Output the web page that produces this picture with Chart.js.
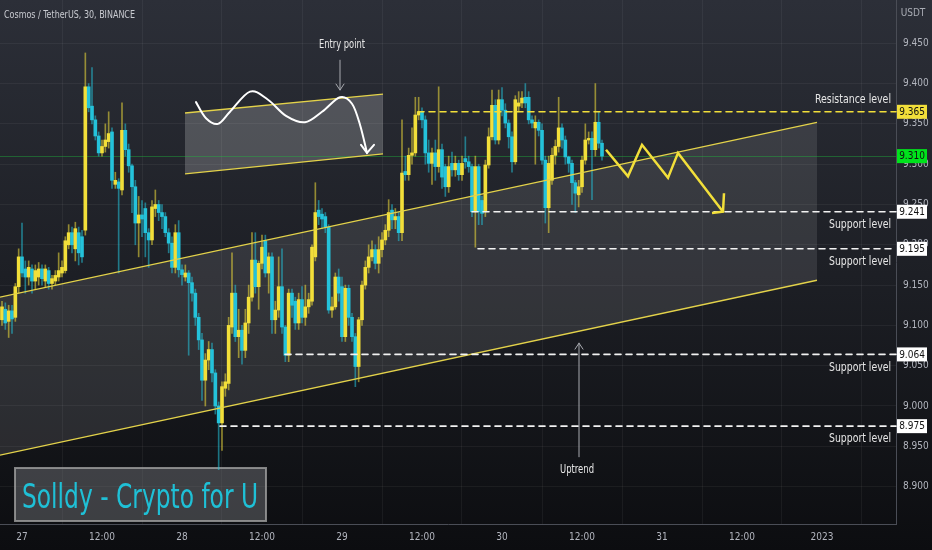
<!DOCTYPE html>
<html>
<head>
<meta charset="utf-8">
<script src="https://cdn.jsdelivr.net/npm/chart.js@4.4.1/dist/chart.umd.min.js"></script>
<style>
  html, body { margin: 0; padding: 0; background: #16171c; }
  canvas { display: block; }
</style>
</head>
<body>
<canvas id="chart" width="932" height="550"></canvas>
<script>
// 30 min candles, bar index 0 = 27 Dec 00:00
const firstBar = -6;

const openP = [
  9.107, 9.120, 9.105, 9.118, 9.110, 9.148, 9.185, 9.170, 9.160, 9.170,
  9.155, 9.160, 9.170, 9.155, 9.168, 9.152, 9.155, 9.160, 9.165, 9.168,
  9.200, 9.215, 9.195, 9.215, 9.210, 9.218, 9.396, 9.372, 9.355, 9.335,
  9.314, 9.322, 9.328, 9.340, 9.275, 9.278, 9.268, 9.342, 9.318, 9.298,
  9.272, 9.227, 9.237, 9.245, 9.215, 9.206, 9.245, 9.250, 9.240, 9.235,
  9.215, 9.202, 9.172, 9.215, 9.169, 9.160, 9.165, 9.153, 9.140, 9.110,
  9.082, 9.032, 9.057, 9.070, 9.041, 9.000, 8.979, 9.022, 9.028, 9.098,
  9.140, 9.086, 9.094, 9.069, 9.103, 9.135, 9.181, 9.148, 9.177, 9.205,
  9.165, 9.185, 9.107, 9.119, 9.148, 9.098, 9.063, 9.140, 9.130, 9.103,
  9.132, 9.110, 9.123, 9.130, 9.185, 9.243, 9.238, 9.235, 9.222, 9.119,
  9.123, 9.160, 9.148, 9.086, 9.146, 9.110, 9.086, 9.049, 9.107, 9.150,
  9.172, 9.185, 9.194, 9.177, 9.194, 9.206, 9.218, 9.243, 9.231, 9.235,
  9.215, 9.291, 9.287, 9.311, 9.314, 9.361, 9.365, 9.355, 9.314, 9.301,
  9.314, 9.297, 9.318, 9.297, 9.272, 9.301, 9.293, 9.301, 9.287, 9.307,
  9.303, 9.297, 9.241, 9.297, 9.255, 9.241, 9.299, 9.334, 9.373, 9.330,
  9.380, 9.367, 9.351, 9.334, 9.303, 9.372, 9.376, 9.383, 9.383, 9.355,
  9.345, 9.352, 9.342, 9.305, 9.246, 9.280, 9.311, 9.322, 9.345, 9.330,
  9.309, 9.301, 9.277, 9.262, 9.272, 9.305, 9.330, 9.332, 9.318, 9.352,
  9.326
];
const highP = [
  9.130, 9.128, 9.125, 9.125, 9.152, 9.195, 9.227, 9.180, 9.180, 9.175,
  9.175, 9.178, 9.175, 9.175, 9.172, 9.162, 9.168, 9.190, 9.180, 9.210,
  9.225, 9.222, 9.228, 9.222, 9.218, 9.438, 9.400, 9.420, 9.360, 9.340,
  9.330, 9.350, 9.365, 9.345, 9.290, 9.282, 9.376, 9.350, 9.325, 9.300,
  9.280, 9.260, 9.255, 9.252, 9.220, 9.255, 9.268, 9.255, 9.250, 9.240,
  9.220, 9.210, 9.225, 9.230, 9.175, 9.175, 9.168, 9.160, 9.145, 9.115,
  9.090, 9.065, 9.080, 9.078, 9.045, 9.005, 9.030, 9.040, 9.110, 9.190,
  9.150, 9.120, 9.100, 9.120, 9.150, 9.215, 9.215, 9.180, 9.212, 9.212,
  9.190, 9.190, 9.130, 9.185, 9.195, 9.100, 9.145, 9.145, 9.135, 9.140,
  9.148, 9.150, 9.140, 9.200, 9.277, 9.255, 9.245, 9.240, 9.225, 9.135,
  9.165, 9.170, 9.160, 9.150, 9.150, 9.115, 9.090, 9.110, 9.155, 9.180,
  9.200, 9.205, 9.200, 9.210, 9.215, 9.225, 9.256, 9.250, 9.245, 9.240,
  9.355, 9.310, 9.320, 9.345, 9.383, 9.383, 9.370, 9.360, 9.330, 9.320,
  9.330, 9.396, 9.325, 9.300, 9.310, 9.315, 9.310, 9.305, 9.310, 9.334,
  9.310, 9.300, 9.310, 9.300, 9.260, 9.305, 9.345, 9.392, 9.380, 9.392,
  9.395, 9.375, 9.355, 9.340, 9.385, 9.390, 9.390, 9.400, 9.390, 9.360,
  9.360, 9.355, 9.350, 9.310, 9.310, 9.320, 9.330, 9.383, 9.350, 9.335,
  9.310, 9.305, 9.280, 9.280, 9.310, 9.350, 9.340, 9.340, 9.400, 9.365,
  9.330
];
const lowP = [
  9.100, 9.095, 9.085, 9.090, 9.105, 9.140, 9.160, 9.140, 9.150, 9.140,
  9.145, 9.150, 9.150, 9.148, 9.145, 9.145, 9.150, 9.155, 9.160, 9.165,
  9.195, 9.190, 9.180, 9.175, 9.178, 9.212, 9.365, 9.350, 9.330, 9.310,
  9.310, 9.315, 9.320, 9.270, 9.270, 9.165, 9.262, 9.310, 9.290, 9.240,
  9.200, 9.185, 9.210, 9.185, 9.172, 9.200, 9.235, 9.230, 9.220, 9.210,
  9.190, 9.165, 9.165, 9.160, 9.150, 9.155, 9.063, 9.130, 9.100, 9.070,
  9.007, 9.000, 9.045, 9.030, 8.990, 8.921, 8.945, 9.012, 9.020, 9.090,
  9.080, 9.060, 9.052, 9.060, 9.090, 9.130, 9.140, 9.120, 9.170, 9.160,
  9.140, 9.090, 9.090, 9.110, 9.090, 9.055, 9.055, 9.110, 9.095, 9.095,
  9.103, 9.100, 9.115, 9.125, 9.180, 9.225, 9.220, 9.215, 9.115, 9.110,
  9.120, 9.130, 9.080, 9.080, 9.100, 9.080, 9.024, 9.030, 9.100, 9.145,
  9.165, 9.180, 9.170, 9.165, 9.185, 9.200, 9.210, 9.220, 9.220, 9.205,
  9.205, 9.280, 9.280, 9.300, 9.310, 9.355, 9.345, 9.300, 9.290, 9.275,
  9.280, 9.290, 9.270, 9.260, 9.265, 9.285, 9.285, 9.280, 9.280, 9.295,
  9.290, 9.235, 9.197, 9.225, 9.225, 9.235, 9.295, 9.330, 9.325, 9.325,
  9.360, 9.345, 9.320, 9.290, 9.300, 9.365, 9.370, 9.370, 9.350, 9.345,
  9.300, 9.335, 9.300, 9.227, 9.215, 9.275, 9.300, 9.315, 9.320, 9.300,
  9.290, 9.250, 9.240, 9.247, 9.265, 9.300, 9.325, 9.256, 9.310, 9.320,
  9.305
];
const closeP = [
  9.123, 9.103, 9.118, 9.108, 9.148, 9.185, 9.165, 9.160, 9.172, 9.155,
  9.168, 9.170, 9.158, 9.170, 9.152, 9.158, 9.162, 9.168, 9.172, 9.205,
  9.215, 9.200, 9.220, 9.190, 9.185, 9.396, 9.370, 9.355, 9.335, 9.314,
  9.322, 9.330, 9.338, 9.280, 9.280, 9.270, 9.342, 9.318, 9.298, 9.272,
  9.227, 9.237, 9.232, 9.215, 9.206, 9.247, 9.250, 9.240, 9.235, 9.215,
  9.202, 9.172, 9.215, 9.169, 9.163, 9.165, 9.153, 9.140, 9.110, 9.082,
  9.032, 9.057, 9.070, 9.041, 9.000, 8.979, 9.024, 9.030, 9.100, 9.140,
  9.086, 9.094, 9.069, 9.103, 9.135, 9.181, 9.148, 9.177, 9.197, 9.165,
  9.185, 9.107, 9.119, 9.148, 9.098, 9.063, 9.140, 9.125, 9.103, 9.132,
  9.110, 9.123, 9.132, 9.197, 9.240, 9.235, 9.232, 9.222, 9.119, 9.123,
  9.160, 9.140, 9.086, 9.146, 9.110, 9.086, 9.049, 9.107, 9.150, 9.172,
  9.185, 9.194, 9.177, 9.194, 9.206, 9.218, 9.240, 9.231, 9.235, 9.215,
  9.289, 9.287, 9.311, 9.314, 9.361, 9.365, 9.355, 9.314, 9.301, 9.314,
  9.297, 9.318, 9.284, 9.272, 9.297, 9.293, 9.301, 9.287, 9.301, 9.303,
  9.297, 9.241, 9.297, 9.241, 9.239, 9.299, 9.334, 9.373, 9.330, 9.380,
  9.367, 9.351, 9.334, 9.303, 9.380, 9.376, 9.382, 9.376, 9.355, 9.351,
  9.352, 9.342, 9.305, 9.246, 9.301, 9.311, 9.322, 9.345, 9.330, 9.309,
  9.301, 9.277, 9.264, 9.272, 9.305, 9.330, 9.332, 9.318, 9.352, 9.326,
  9.310
];

const xTickBars = [0, 24, 48, 72, 96, 120, 144, 168, 192, 216, 240];
const xTickLabels = ['27', '12:00', '28', '12:00', '29', '12:00', '30', '12:00', '31', '12:00', '2023'];
const yTicks = [8.90, 8.95, 9.00, 9.05, 9.10, 9.15, 9.20, 9.25, 9.30, 9.35, 9.40, 9.45];

// drawn levels (price)
const resistance = 9.365;
const supports = [9.241, 9.195, 9.064, 8.975];
const supportFrom = [135, 136.8, 78.9, 59.4];
const lastPrice = 9.310;

// trend channel: [bar, price]
const channelTop = [[-6.6, 9.135], [238.5, 9.352]];
const channelBottom = [[-6.6, 8.939], [238.5, 9.156]];
// small sketch box
const boxTop = [[48.9, 9.3635], [108.3, 9.387]];
const boxBottom = [[48.9, 9.288], [108.3, 9.3127]];
const wave = [[52.2, 9.377], [55.2, 9.357], [58.8, 9.350], [62.4, 9.365], [68.4, 9.390],
  [73.8, 9.380], [79.2, 9.360], [84.9, 9.352], [90.0, 9.365], [95.4, 9.383],
  [99.0, 9.375], [101.4, 9.349], [103.5, 9.314]];
const zigzag = [[175.2, 9.318], [181.8, 9.285], [186, 9.324], [193.8, 9.283],
  [196.8, 9.314], [210.3, 9.241]];

const UP = '#f2df3a';
const DOWN = '#25c2da';
const FONT = '"Liberation Sans Narrow", "DejaVu Sans Condensed", "Roboto Condensed", "Liberation Sans", sans-serif';

const bars = openP.map((o, k) => k + firstBar);
const isUp = openP.map((o, k) => closeP[k] >= o);

const bgPlugin = {
  id: 'bg',
  beforeDraw(chart) {
    const c = chart.ctx;
    const g = c.createLinearGradient(0, 0, 0, chart.height);
    g.addColorStop(0, '#2c2f38');
    g.addColorStop(0.5, '#1d1f25');
    g.addColorStop(1, '#0c0d10');
    c.save();
    c.fillStyle = g;
    c.fillRect(0, 0, chart.width, chart.height);
    c.restore();
  }
};

function poly(c, pts) {
  c.beginPath();
  pts.forEach((p, k) => k ? c.lineTo(p[0], p[1]) : c.moveTo(p[0], p[1]));
}

const drawPlugin = {
  id: 'drawings',
  beforeDatasetsDraw(chart) {
    const c = chart.ctx, xs = chart.scales.x, ys = chart.scales.y;
    const P = p => [xs.getPixelForValue(p[0]), ys.getPixelForValue(p[1])];
    const a = chart.chartArea;
    c.save();
    c.beginPath();
    c.rect(a.left, a.top, a.right - a.left, a.bottom - a.top);
    c.clip();
    // channel fill
    c.fillStyle = 'rgba(255,255,255,0.10)';
    poly(c, [P(channelTop[0]), P(channelTop[1]), P(channelBottom[1]), P(channelBottom[0])]);
    c.closePath();
    c.fill();
    // box fill
    c.fillStyle = 'rgba(255,255,255,0.20)';
    poly(c, [P(boxTop[0]), P(boxTop[1]), P(boxBottom[1]), P(boxBottom[0])]);
    c.closePath();
    c.fill();
    // last price line
    c.strokeStyle = 'rgba(30,190,60,0.40)';
    c.lineWidth = 1;
    const ly = Math.round(ys.getPixelForValue(lastPrice)) + 0.5;
    c.beginPath(); c.moveTo(a.left, ly); c.lineTo(a.right, ly); c.stroke();
    // watermark box
    c.fillStyle = 'rgba(120,122,126,0.45)';
    c.fillRect(15, 468, 251, 53);
    c.strokeStyle = 'rgba(160,160,160,0.8)';
    c.lineWidth = 2;
    c.strokeRect(15, 468, 251, 53);
    c.restore();
  },
  afterDatasetsDraw(chart) {
    const c = chart.ctx, xs = chart.scales.x, ys = chart.scales.y;
    const P = p => [xs.getPixelForValue(p[0]), ys.getPixelForValue(p[1])];
    const a = chart.chartArea;
    c.save();
    // channel lines
    c.strokeStyle = '#e3d24a';
    c.lineWidth = 1.3;
    [channelTop, channelBottom, boxTop, boxBottom].forEach(l => {
      poly(c, [P(l[0]), P(l[1])]);
      c.stroke();
    });
    // wave
    const w = wave.map(P);
    c.strokeStyle = '#ffffff';
    c.lineWidth = 2;
    c.lineCap = 'round';
    c.beginPath();
    c.moveTo(w[0][0], w[0][1]);
    for (let k = 0; k < w.length - 1; k++) {
      const p0 = w[Math.max(k - 1, 0)], p1 = w[k], p2 = w[k + 1], p3 = w[Math.min(k + 2, w.length - 1)];
      c.bezierCurveTo(p1[0] + (p2[0] - p0[0]) / 6, p1[1] + (p2[1] - p0[1]) / 6,
        p2[0] - (p3[0] - p1[0]) / 6, p2[1] - (p3[1] - p1[1]) / 6, p2[0], p2[1]);
    }
    c.stroke();
    const tip = w[w.length - 1];
    poly(c, [P([101.7, 9.324]), tip, P([105.6, 9.324])]);
    c.stroke();

    // small gray arrows
    c.strokeStyle = '#a8aab0';
    c.lineWidth = 1;
    const e0 = P([95.4, 9.429]), e1 = P([95.4, 9.392]);
    poly(c, [e0, e1]); c.stroke();
    poly(c, [[e1[0] - 4, e1[1] - 6], e1, [e1[0] + 4, e1[1] - 6]]); c.stroke();
    const u0 = P([167.1, 8.937]), u1 = P([167.1, 9.078]);
    poly(c, [u0, u1]); c.stroke();
    poly(c, [[u1[0] - 4, u1[1] + 6], u1, [u1[0] + 4, u1[1] + 6]]); c.stroke();

    // levels
    c.lineWidth = 1.6;
    c.setLineDash([6, 5]);
    c.strokeStyle = UP;
    let y = ys.getPixelForValue(resistance);
    c.beginPath(); c.moveTo(xs.getPixelForValue(118.8), y); c.lineTo(a.right, y); c.stroke();
    c.strokeStyle = '#f2f2f2';
    supports.forEach((s, k) => {
      const yy = ys.getPixelForValue(s);
      c.beginPath(); c.moveTo(xs.getPixelForValue(supportFrom[k]), yy); c.lineTo(a.right, yy); c.stroke();
    });
    c.setLineDash([]);

    // zigzag
    const z = zigzag.map(P);
    c.strokeStyle = UP;
    c.lineWidth = 2.5;
    c.lineJoin = 'miter';
    c.lineCap = 'butt';
    poly(c, z); c.stroke();
    poly(c, [P([207, 9.2395]), z[z.length - 1], P([210.6, 9.264])]); c.stroke();

    // texts
    c.fillStyle = '#e6e6e6';
    c.font = '12px ' + FONT;
    c.textBaseline = 'middle';
    c.textAlign = 'right';
    c.fillText('Resistance level', a.right - 5, ys.getPixelForValue(resistance) - 12, 76);
    supports.forEach(s => c.fillText('Support level', a.right - 5, ys.getPixelForValue(s) + 13, 62));
    c.textAlign = 'center';
    c.fillText('Entry point', xs.getPixelForValue(96), ys.getPixelForValue(9.448), 46);
    c.fillText('Uptrend', xs.getPixelForValue(166.5), ys.getPixelForValue(8.921), 34);

    c.textAlign = 'left';
    c.fillStyle = '#c9cbd1';
    c.font = '11px ' + FONT;
    c.fillText('Cosmos / TetherUS, 30, BINANCE', 4, 15, 131);

    // watermark text
    c.fillStyle = '#1fc0d6';
    c.font = '34px ' + FONT;
    c.textBaseline = 'alphabetic';
    c.fillText('Solldy - Crypto for U', 22, 508, 236);
    c.restore();
  },
  afterDraw(chart) {
    const c = chart.ctx, ys = chart.scales.y;
    const a = chart.chartArea;
    c.save();
    c.font = '10px ' + FONT;
    c.textBaseline = 'middle';
    c.textAlign = 'center';
    c.fillStyle = '#a9acb4';
    c.fillText('USDT', a.right + 17, 13);
    const tag = (v, bg) => {
      const y = ys.getPixelForValue(v);
      c.fillStyle = bg;
      c.fillRect(a.right + 1, y - 7, 30, 14);
      c.fillStyle = '#111111';
      c.fillText(v.toFixed(3), a.right + 16, y + 0.5);
    };
    tag(resistance, UP);
    tag(lastPrice, '#00e21c');
    supports.forEach(s => tag(s, '#ffffff'));
    c.restore();
  }
};

const ctx = document.getElementById('chart').getContext('2d');
new Chart(ctx, {
  type: 'bar',
  data: {
    datasets: [
      {
        // wicks
        data: bars.map((b, k) => ({ x: b, y: [lowP[k], highP[k]] })),
        backgroundColor: isUp.map(u => u ? 'rgba(242,223,58,0.55)' : 'rgba(37,194,218,0.55)'),
        barThickness: 1,
        grouped: false,
        borderWidth: 0
      },
      {
        // bodies
        data: bars.map((b, k) => ({ x: b, y: [openP[k], closeP[k]] })),
        backgroundColor: isUp.map(u => u ? UP : DOWN),
        barThickness: 3,
        minBarLength: 1,
        grouped: false,
        borderWidth: 0
      }
    ]
  },
  options: {
    responsive: false,
    animation: false,
    layout: { padding: 0 },
    plugins: { legend: { display: false }, tooltip: { enabled: false } },
    scales: {
      x: {
        type: 'linear',
        min: -6.6,
        max: 262.2,
        offset: false,
        grid: { color: 'rgba(255,255,255,0.05)', drawTicks: false },
        border: { color: '#4a4d56' },
        afterBuildTicks: s => { s.ticks = xTickBars.map(v => ({ value: v })); },
        afterFit: s => { s.height = 26; s.paddingLeft = 0; s.paddingRight = 0; },
        ticks: {
          autoSkip: false,
          maxRotation: 0,
          padding: 7,
          color: '#b2b5be',
          font: { family: FONT, size: 10 },
          callback: (v, k) => xTickLabels[k]
        }
      },
      y: {
        position: 'right',
        min: 8.8536,
        max: 9.5037,
        grid: { color: 'rgba(255,255,255,0.05)', drawTicks: false },
        border: { color: '#4a4d56' },
        afterBuildTicks: s => { s.ticks = yTicks.map(v => ({ value: v })); },
        afterFit: s => { s.width = 36; s.paddingTop = 0; s.paddingBottom = 0; },
        ticks: {
          padding: 7,
          color: '#b2b5be',
          font: { family: FONT, size: 10 },
          callback: v => v.toFixed(3)
        }
      }
    }
  },
  plugins: [bgPlugin, drawPlugin]
});
</script>
</body>
</html>
